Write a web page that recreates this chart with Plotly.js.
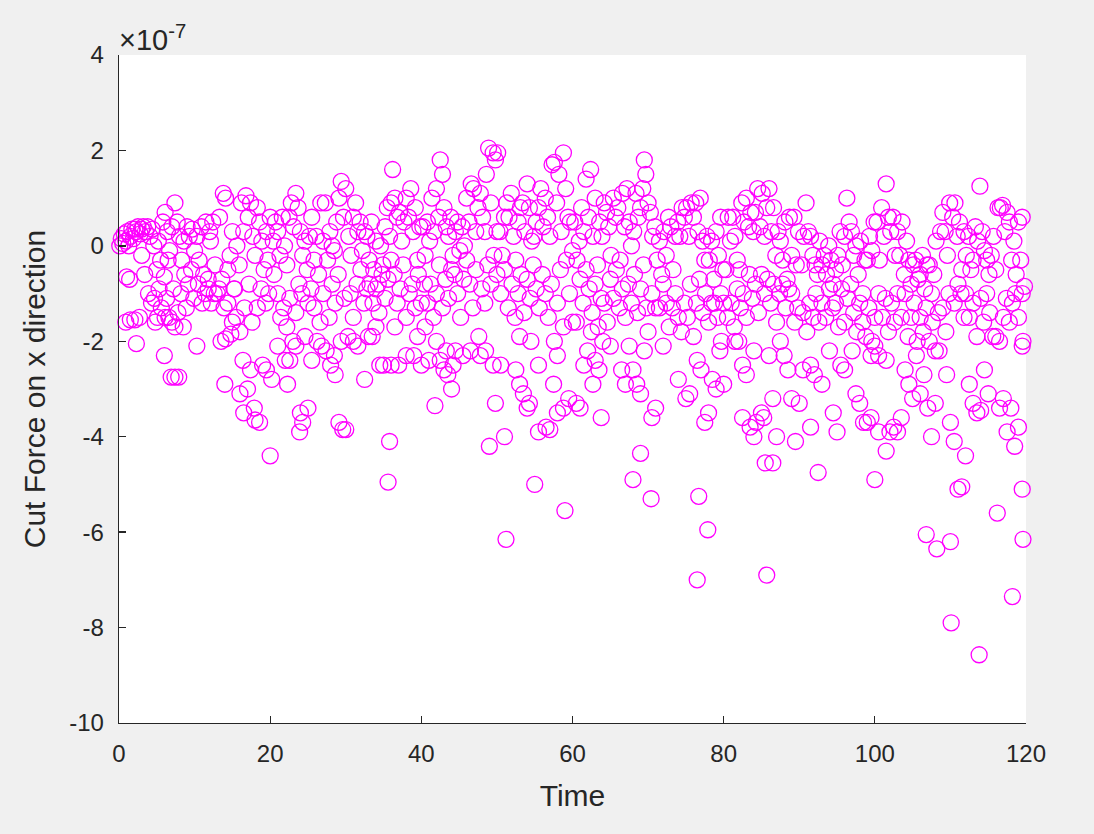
<!DOCTYPE html>
<html>
<head>
<meta charset="utf-8">
<script src="https://cdn.plot.ly/plotly-3.0.1.min.js"></script>
<style>
html,body{margin:0;padding:0;background:#f0f0f0;}
#chart{width:1094px;height:834px;}
</style>
</head>
<body>
<div id="chart"></div>
<script>
// Cut force values are in units of 1e-7 (axis multiplier ×10^-7). Each pair is [time, force].
const points0to10 = [[0.1,0.0],[0.3,0.15],[0.5,0.05],[0.7,0.25],[0.9,0.1],[1.1,0.3],[1.3,0.0],[1.5,0.2],[1.7,0.35],[1.9,0.15],[2.1,0.35],[2.3,0.3],[2.5,0.4],[2.8,0.25],[3.0,0.35],[3.2,0.4],[3.5,0.3],[3.8,0.4],[4.1,0.2],[4.4,0.35],
[1.0,-0.65],[1.4,-0.7],[0.9,-1.6],[1.5,-1.55],[2.1,-1.55],[2.7,-1.5],[2.3,-2.05],
[3.0,-0.2],[3.4,-0.6],[3.9,-1.0],[4.3,-1.2],[4.7,-1.1],[5.0,-0.5],[5.3,-0.9],[5.6,-1.3],[4.6,0.0],[5.2,0.1],[5.8,0.5],[6.1,0.7],[6.4,0.3],[6.7,-0.1],[7.0,0.4],[7.4,0.9],[7.7,0.5],[8.0,0.2],[8.3,-0.3],[8.6,0.1],[9.0,0.4],[9.3,0.2],[9.7,0.35],[10.0,-0.1],
[5.5,-0.3],[6.0,-0.65],[6.3,-1.1],[6.6,-1.5],[7.0,-1.6],[7.4,-1.7],[7.8,-1.4],[8.2,-1.0],[8.5,-1.7],[8.9,-1.3],[9.2,-0.8],[9.6,-0.5],[9.9,-1.1],[5.1,-1.5],[6.1,-1.5],[4.8,-1.6],
[6.0,-2.3],[6.9,-2.75],[7.4,-2.75],[7.9,-2.75],[10.3,-2.1],[8.7,-0.6],[7.2,-0.9],[6.5,-0.3]];

const points10to20 = [[10.3,0.2],[10.6,-0.3],[10.9,0.4],[11.2,-0.6],[11.5,0.5],[11.8,-0.9],[12.1,0.1],[12.4,0.5],[12.7,-0.4],[13.0,-1.0],[13.3,0.6],[13.6,-0.7],[13.8,1.1],[14.1,1.0],[14.4,-0.5],[14.7,-0.2],[15.0,0.3],[15.3,-0.9],[15.6,0.0],[15.9,-0.4],[16.2,0.9],[16.5,0.3],[16.8,1.05],[17.1,0.6],[17.4,0.9],[17.7,0.2],[18.0,-0.2],[18.3,0.8],[18.6,0.5],[18.9,0.1],[19.2,-0.5],[19.5,0.3],[19.8,-1.0],[20.0,0.6],
[10.5,-0.8],[11.0,-1.2],[11.4,-1.0],[11.8,-0.7],[12.2,-1.2],[12.6,-1.0],[13.2,-0.9],[13.9,-1.3],[14.4,-1.2],[15.0,-1.6],[15.5,-1.5],[16.0,-1.8],[16.6,-1.3],[17.2,-0.8],[17.6,-1.6],[18.3,-1.3],[18.8,-0.9],[19.4,-1.2],[19.7,-0.3],
[13.5,-2.0],[14.1,-1.95],[14.8,-1.85],[14.0,-2.9],[16.4,-2.4],[17.4,-2.6],[16.0,-3.1],[17.0,-3.0],[16.5,-3.5],[17.9,-3.4],[18.0,-3.65],[18.6,-3.7],[20.0,-4.4],[19.0,-2.5],[20.2,-2.8],[19.5,-2.6],[15.2,-0.9],[12.0,0.3]];

const points20to30 = [[20.4,0.1],[20.7,0.5],[21.0,0.3],[21.3,-0.2],[21.6,0.6],[21.9,0.0],[22.2,-0.4],[22.5,0.6],[22.8,0.9],[23.1,0.4],[23.4,1.1],[23.7,0.8],[24.0,0.3],[24.3,-0.2],[24.6,0.1],[24.9,-0.5],[25.2,0.2],[25.5,0.6],[25.8,-0.3],[26.1,0.2],[26.4,-0.6],[26.7,0.9],[27.0,0.1],[27.3,0.9],[27.6,-0.3],[27.9,0.3],[28.2,0.0],[28.5,-0.1],[28.8,0.5],[29.1,1.0],[29.4,1.35],[29.7,0.6],[30.0,1.2],
[20.5,-0.6],[21.0,-1.0],[21.4,-1.5],[21.8,-1.3],[22.2,-1.7],[22.6,-1.1],[23.0,-2.0],[23.4,-1.4],[23.8,-0.8],[24.2,-1.0],[24.6,-1.9],[25.0,-1.2],[25.4,-0.9],[25.8,-1.3],[26.2,-2.0],[26.6,-1.6],[27.0,-1.0],[27.4,-2.2],[27.8,-1.5],[28.2,-0.8],[28.6,-1.2],[29.0,-0.6],[29.4,-2.0],[29.8,-1.1],
[21.0,-2.1],[22.0,-2.4],[22.6,-2.4],[23.4,-2.1],[23.9,-3.9],[24.3,-3.7],[24.0,-3.5],[25.0,-3.4],[25.5,-2.4],[28.0,-2.5],[28.5,-2.3],[28.6,-2.7],[29.1,-3.7],[29.6,-3.85],[30.0,-3.85],[30.3,-1.9],[26.8,-2.1],[22.3,-2.9]];

const points30to40 = [[30.4,0.2],[30.7,-0.2],[31.0,0.6],[31.3,0.9],[31.6,0.3],[31.9,0.5],[32.2,-0.1],[32.5,0.3],[32.8,0.2],[33.1,-0.3],[33.4,0.5],[33.7,-0.5],[34.0,0.1],[34.3,-0.8],[34.6,0.0],[34.9,-0.4],[35.2,0.4],[35.5,0.8],[35.8,0.2],[36.0,0.9],[36.2,1.6],[36.5,1.0],[36.8,0.6],[37.1,0.7],[37.4,0.1],[37.7,0.5],[38.0,1.0],[38.3,0.6],[38.6,1.2],[38.9,0.3],[39.2,0.8],[39.5,-0.3],[39.8,0.4],
[30.6,-1.0],[31.0,-1.5],[31.5,-0.8],[32.0,-0.5],[32.4,-1.2],[32.8,-0.9],[33.2,-0.8],[33.6,-1.2],[34.0,-0.9],[34.4,-1.4],[34.8,-0.6],[35.2,-1.1],[35.6,-0.7],[36.0,-0.3],[36.4,-0.6],[36.8,-1.2],[37.2,-0.9],[37.6,-0.4],[38.0,-1.5],[38.4,-1.0],[38.8,-0.8],[39.2,-1.3],[39.6,-0.6],[40.0,-1.2],
[32.5,-2.8],[33.0,-1.9],[33.5,-1.9],[34.0,-1.7],[34.5,-2.5],[35.0,-2.5],[36.0,-2.5],[36.5,-1.7],[37.0,-2.5],[38.0,-2.3],[39.0,-2.3],[39.5,-1.9],[40.0,-2.5],[35.8,-4.1],[35.6,-4.95],[31.0,-2.0],[31.6,-2.1]];

const points40to50 = [[40.2,0.4],[40.5,-0.2],[40.8,0.5],[41.1,0.1],[41.4,1.0],[41.7,0.3],[42.0,1.2],[42.3,0.6],[42.5,1.8],[42.8,1.5],[43.0,0.8],[43.3,0.4],[43.6,0.2],[43.9,0.6],[44.2,-0.2],[44.5,0.3],[44.8,0.5],[45.1,-0.1],[45.4,0.4],[45.7,0.0],[46.0,1.0],[46.3,0.5],[46.6,1.3],[46.9,1.2],[47.2,0.3],[47.5,0.8],[47.8,1.1],[48.1,0.6],[48.4,0.3],[48.6,1.5],[48.9,2.05],[49.2,0.9],[49.5,1.95],[49.8,1.8],[50.1,1.95],[50.0,0.3],
[40.4,-0.8],[40.8,-1.2],[41.2,-0.8],[41.6,-1.5],[42.0,-1.0],[42.4,-0.4],[42.8,-1.3],[43.2,-0.7],[43.6,-1.1],[44.0,-0.5],[44.4,-0.6],[44.8,-1.0],[45.2,-1.5],[45.6,-0.7],[46.0,-0.3],[46.4,-0.8],[46.8,-1.3],[47.2,-0.5],[47.6,-1.9],[48.0,-0.9],[48.4,-1.2],[48.8,-0.4],[49.2,-0.8],[49.6,-0.2],[50.0,-0.6],
[40.5,-1.7],[41.0,-2.4],[42.0,-2.0],[42.5,-2.4],[43.0,-2.6],[43.3,-2.2],[43.5,-2.7],[44.0,-3.0],[44.2,-2.5],[41.8,-3.35],[44.5,-2.2],[45.5,-2.3],[46.5,-2.2],[47.8,-2.3],[48.5,-2.2],[49.0,-4.2],[49.5,-2.5],[49.8,-3.3]];

const points50to60 = [[50.4,0.3],[50.7,-0.2],[51.0,0.6],[51.3,0.9],[51.6,0.6],[51.9,1.1],[52.2,0.2],[52.5,-0.3],[52.8,0.5],[53.1,0.8],[53.4,0.9],[53.7,0.3],[54.0,1.3],[54.3,0.8],[54.6,0.1],[54.9,0.2],[55.2,0.5],[55.5,0.8],[55.8,1.2],[56.1,0.4],[56.4,1.0],[56.7,0.6],[57.0,0.2],[57.3,1.7],[57.6,1.75],[57.9,0.9],[58.2,1.5],[58.5,0.3],[58.8,1.95],[59.1,1.2],[59.4,0.6],[59.7,0.5],[60.0,-0.1],
[50.5,-1.0],[51.0,-0.5],[51.5,-1.3],[52.0,-0.8],[52.4,-1.5],[52.8,-1.0],[53.2,-0.6],[53.6,-1.4],[54.0,-0.7],[54.4,-1.1],[54.8,-0.4],[55.2,-0.9],[55.6,-1.3],[56.0,-0.6],[56.4,-1.0],[56.8,-1.5],[57.2,-0.8],[57.6,-2.0],[58.0,-1.2],[58.4,-0.5],[58.8,-1.7],[59.2,-0.3],[59.6,-1.0],[60.0,-1.6],
[50.5,-2.5],[51.0,-4.0],[51.2,-6.15],[52.5,-2.6],[53.0,-2.9],[53.0,-1.9],[53.5,-3.1],[54.0,-3.4],[54.3,-3.3],[54.5,-2.0],[55.0,-5.0],[55.5,-2.5],[55.5,-3.9],[56.5,-3.8],[57.0,-3.85],[57.5,-2.9],[58.0,-2.3],[58.0,-3.5],[58.8,-3.4],[59.0,-5.55],[59.5,-3.2]];

const points60to70 = [[60.3,0.5],[60.6,-0.3],[60.9,0.1],[61.2,0.8],[61.5,0.3],[61.8,1.4],[62.1,0.6],[62.4,1.6],[62.7,0.2],[63.0,1.0],[63.3,-0.4],[63.6,0.5],[63.9,0.2],[64.2,0.9],[64.5,0.7],[64.8,0.4],[65.1,-0.2],[65.4,1.0],[65.7,0.6],[66.0,0.8],[66.3,-0.3],[66.6,1.1],[66.9,0.4],[67.2,1.2],[67.5,0.5],[67.8,0.0],[68.1,0.3],[68.4,1.1],[68.7,0.6],[69.0,0.8],[69.3,1.2],[69.5,1.8],[69.7,1.5],[70.0,0.9],
[60.5,-1.6],[61.0,-0.7],[61.4,-1.2],[61.8,-0.5],[62.2,-0.9],[62.6,-1.4],[63.0,-0.8],[63.4,-1.7],[63.8,-1.1],[64.2,-1.2],[64.6,-1.6],[65.0,-0.7],[65.4,-1.1],[65.8,-0.5],[66.2,-1.3],[66.6,-0.9],[67.0,-1.5],[67.4,-0.8],[67.8,-1.2],[68.2,-0.6],[68.6,-1.4],[69.0,-0.9],[69.4,-0.4],[69.8,-1.3],
[60.5,-3.3],[61.0,-3.4],[61.5,-2.5],[62.0,-2.2],[62.5,-1.8],[62.7,-2.9],[63.0,-2.4],[63.5,-2.6],[63.8,-3.6],[64.0,-2.0],[65.0,-2.1],[66.5,-2.6],[67.0,-2.9],[67.5,-2.1],[68.0,-2.6],[68.0,-4.9],[68.5,-2.9],[69.0,-3.1],[69.0,-4.35],[69.5,-2.2],[70.0,-1.8]];

const points70to80 = [[70.3,0.7],[70.6,0.2],[70.9,0.4],[71.2,-0.3],[71.5,0.1],[71.8,-0.6],[72.1,0.3],[72.4,-0.2],[72.7,0.6],[73.0,0.4],[73.3,-0.5],[73.6,0.2],[73.9,0.5],[74.2,0.2],[74.5,0.8],[74.8,0.6],[75.1,0.8],[75.4,0.2],[75.7,0.9],[76.0,0.6],[76.3,0.9],[76.6,0.3],[76.9,1.0],[77.2,0.1],[77.5,-0.3],[77.8,0.2],[78.1,-0.3],[78.4,0.1],[78.7,-0.7],[79.0,0.3],[79.3,-0.2],[79.6,0.6],[79.9,-0.5],
[70.5,-1.0],[71.0,-1.3],[71.5,-1.3],[72.0,-0.8],[72.4,-1.2],[72.8,-1.7],[73.2,-1.3],[73.6,-1.0],[74.0,-1.5],[74.4,-1.8],[74.8,-1.2],[75.2,-1.5],[75.6,-0.8],[76.0,-1.9],[76.4,-1.2],[76.8,-0.7],[77.2,-1.4],[77.6,-1.0],[78.0,-1.6],[78.4,-1.2],[78.8,-1.2],[79.2,-1.5],[79.6,-1.0],[80.0,-1.2],
[70.4,-5.3],[70.5,-3.6],[71.0,-3.4],[72.0,-2.1],[74.0,-2.8],[75.0,-3.2],[75.5,-3.1],[76.5,-2.4],[77.0,-2.6],[76.5,-7.0],[76.7,-5.25],[77.5,-3.7],[77.9,-5.95],[78.0,-3.5],[78.5,-2.8],[79.0,-3.0],[79.5,-2.2],[80.0,-2.9],[79.7,-2.0]];

const points80to90 = [[80.3,-0.5],[80.6,0.6],[80.9,0.1],[81.2,0.6],[81.5,0.2],[81.8,-0.3],[82.1,-0.5],[82.4,0.9],[82.7,0.5],[83.0,1.0],[83.3,0.4],[83.6,0.7],[83.9,0.3],[84.2,0.7],[84.5,1.2],[84.8,0.4],[85.1,1.1],[85.4,0.2],[85.7,0.8],[86.0,1.2],[86.3,0.3],[86.6,0.8],[86.9,-0.2],[87.2,0.3],[87.5,0.1],[87.8,-0.3],[88.1,0.5],[88.4,-0.7],[88.7,0.6],[89.0,-0.2],[89.3,0.6],[89.6,-0.4],[89.9,0.3],
[80.5,-1.5],[81.0,-1.2],[81.4,-1.7],[81.8,-0.9],[82.2,-1.3],[82.6,-1.0],[83.0,-1.5],[83.4,-0.6],[83.8,-1.1],[84.2,-0.8],[84.6,-1.4],[85.0,-0.6],[85.4,-1.0],[85.8,-0.7],[86.2,-1.2],[86.6,-0.8],[87.0,-1.6],[87.4,-1.0],[87.8,-0.8],[88.2,-1.3],[88.6,-0.9],[89.0,-1.0],[89.4,-1.6],[89.8,-1.3],
[81.5,-2.0],[82.0,-2.0],[82.5,-2.5],[82.5,-3.6],[83.0,-2.7],[83.5,-3.8],[84.0,-4.0],[84.0,-2.2],[84.3,-3.7],[85.0,-3.5],[85.3,-3.6],[85.5,-4.55],[85.7,-6.9],[86.0,-2.3],[86.5,-4.55],[86.5,-3.2],[87.0,-4.0],[87.5,-2.0],[88.0,-2.3],[88.5,-2.6],[89.0,-3.2],[89.5,-4.1],[90.0,-3.3]];

const points90to100 = [[90.3,-0.4],[90.6,0.2],[90.9,0.9],[91.2,0.3],[91.5,0.2],[91.8,-0.2],[92.1,-0.4],[92.4,-0.6],[92.7,0.1],[93.0,-0.4],[93.3,-0.2],[93.6,-0.6],[93.9,0.0],[94.2,-0.3],[94.5,-0.8],[94.8,-0.5],[95.1,-0.2],[95.4,0.3],[95.7,-0.4],[96.0,0.2],[96.3,1.0],[96.6,0.5],[96.9,0.3],[97.2,-0.2],[97.5,0.0],[97.8,-0.6],[98.1,0.1],[98.4,-1.0],[98.7,-0.3],[99.0,-0.3],[99.3,0.2],[99.6,-0.1],[99.9,0.5],
[90.5,-1.4],[91.0,-1.8],[91.4,-1.2],[91.8,-1.5],[92.2,-1.0],[92.6,-1.6],[93.0,-1.2],[93.5,-1.5],[94.0,-0.9],[94.4,-1.3],[94.8,-1.2],[95.2,-1.7],[95.6,-0.9],[96.0,-1.6],[96.4,-1.1],[96.8,-0.8],[97.2,-1.4],[97.6,-1.8],[98.0,-1.2],[98.4,-1.6],[98.8,-1.9],[99.2,-1.3],[99.6,-2.0],[100.0,-1.5],
[90.5,-2.6],[91.5,-2.5],[91.5,-3.8],[92.0,-2.7],[92.5,-4.75],[93.0,-2.9],[94.0,-2.2],[94.5,-3.5],[95.0,-3.9],[95.5,-2.5],[96.0,-2.6],[97.0,-2.2],[97.5,-3.1],[98.0,-3.3],[98.5,-3.7],[99.0,-3.7],[99.5,-3.6],[99.5,-2.3],[100.0,-2.1],[100.0,-4.9]];

const points100to110 = [[100.3,0.5],[100.6,-0.3],[100.9,0.8],[101.2,0.2],[101.5,1.3],[101.8,0.6],[102.1,0.3],[102.4,0.6],[102.7,-0.2],[103.0,0.3],[103.3,-0.2],[103.6,0.5],[103.9,-0.6],[104.2,0.1],[104.5,-0.3],[104.8,-0.8],[105.1,-0.4],[105.4,-0.3],[105.7,-0.7],[106.0,-0.6],[106.3,-0.2],[106.6,-0.9],[106.9,-0.4],[107.2,-0.4],[107.5,-1.0],[107.8,-0.6],[108.1,0.1],[108.4,-1.4],[108.7,0.3],[109.0,0.7],[109.3,0.3],[109.6,-0.2],[109.9,0.9],
[100.5,-1.0],[101.0,-1.5],[101.4,-1.1],[101.8,-1.8],[102.2,-1.2],[102.6,-1.6],[103.0,-1.0],[103.5,-1.5],[104.0,-1.0],[104.4,-1.9],[104.8,-1.5],[105.2,-1.2],[105.6,-2.0],[106.0,-1.5],[106.4,-1.8],[106.8,-1.3],[107.2,-2.0],[107.6,-1.6],[108.0,-2.2],[108.5,-2.2],[109.0,-1.3],[109.4,-1.8],[109.8,-1.0],
[100.5,-2.3],[100.5,-3.9],[101.5,-2.4],[101.5,-4.3],[102.0,-3.9],[102.5,-3.8],[103.0,-3.9],[103.5,-3.6],[104.0,-2.6],[104.5,-2.9],[105.0,-3.2],[105.5,-2.3],[106.0,-3.1],[106.5,-2.7],[106.8,-6.05],[107.0,-3.4],[107.5,-4.0],[108.0,-3.3],[108.2,-6.35],[109.5,-2.7],[110.0,-3.7],[110.0,-6.2],[110.1,-7.9]];

const points110to120 = [[110.3,0.6],[110.6,0.9],[110.9,0.2],[111.2,0.5],[111.5,-0.5],[111.8,0.3],[112.1,-0.2],[112.4,0.2],[112.7,-0.5],[113.0,-0.3],[113.3,0.4],[113.6,0.1],[113.9,1.25],[114.2,0.3],[114.5,-0.1],[114.8,-0.3],[115.1,-0.6],[115.4,-0.2],[115.7,0.2],[116.0,-0.5],[116.3,0.8],[116.6,0.8],[116.9,0.85],[117.2,0.3],[117.5,0.7],[117.8,0.5],[118.1,-0.3],[118.4,0.1],[118.7,-0.6],[119.0,0.5],[119.5,0.6],[119.3,-0.3],
[110.5,-1.2],[111.0,-0.8],[111.4,-1.0],[111.8,-1.5],[112.0,-1.0],[112.5,-1.5],[113.0,-1.2],[113.5,-1.9],[114.0,-1.1],[114.4,-1.6],[114.8,-1.0],[115.2,-1.4],[115.6,-1.9],[116.0,-1.9],[116.5,-2.0],[117.0,-1.5],[117.4,-1.1],[117.8,-1.6],[118.2,-1.2],[118.6,-1.0],[119.0,-1.5],[119.5,-1.0],[119.8,-0.85],
[110.5,-4.1],[111.0,-5.1],[111.5,-5.05],[112.0,-4.4],[112.5,-2.9],[113.0,-3.3],[113.5,-3.5],[113.8,-8.57],[114.0,-3.45],[114.5,-2.6],[115.0,-3.1],[116.2,-5.6],[116.5,-3.4],[117.0,-3.2],[117.5,-3.9],[118.0,-3.4],[118.2,-7.35],[118.5,-4.2],[119.0,-3.8],[119.5,-5.1],[119.6,-6.15],[119.5,-2.1],[119.6,-2.0]];

const xTickValues = [0, 20, 40, 60, 80, 100, 120];
const yTickValues = [-10, -8, -6, -4, -2, 0, 2, 4];
const xLabel = "Time";
const yLabel = "Cut Force on x direction";
const exponentLabel = "×10<sup>-7</sup>";

const allPoints = [].concat(points0to10, points10to20, points20to30, points30to40, points40to50,
  points50to60, points60to70, points70to80, points80to90, points90to100, points100to110, points110to120);

const FONT = "Liberation Sans, Arial, Helvetica, sans-serif";
const TXT = "#262626";

const trace = {
  type: "scatter",
  mode: "markers",
  x: allPoints.map(p => p[0]),
  y: allPoints.map(p => p[1]),
  marker: {symbol: "circle-open", size: 16, color: "#ff00ff", line: {width: 1.3, color: "#ff00ff"}},
  cliponaxis: false,
  hoverinfo: "skip"
};

const axisCommon = {
  showgrid: false, zeroline: false, showline: true, linecolor: TXT, linewidth: 1.3,
  ticks: "inside", ticklen: 7, tickwidth: 1.3, tickcolor: TXT,
  tickfont: {family: FONT, size: 24, color: TXT},
  mirror: false, fixedrange: true
};

const layout = {
  width: 1094, height: 834,
  paper_bgcolor: "#f0f0f0", plot_bgcolor: "#ffffff",
  margin: {l: 119, r: 68, t: 55, b: 111, pad: 0},
  showlegend: false,
  title: {
    text: exponentLabel, xref: "paper", yref: "paper", x: 0, y: 1,
    xanchor: "left", yanchor: "bottom", pad: {b: 5, l: 0, t: 0, r: 0},
    font: {family: FONT, size: 29, color: TXT}
  },
  xaxis: Object.assign({}, axisCommon, {
    range: [0, 120], tickvals: xTickValues, ticktext: xTickValues.map(String),
    ticklabelstandoff: 9,
    title: {text: xLabel, font: {family: FONT, size: 30, color: TXT}, standoff: 19}
  }),
  yaxis: Object.assign({}, axisCommon, {
    range: [-10, 4], tickvals: yTickValues, ticktext: yTickValues.map(String),
    ticklabelstandoff: 9,
    title: {text: yLabel, font: {family: FONT, size: 30, color: TXT}, standoff: 14}
  })
};

Plotly.newPlot("chart", [trace], layout, {displayModeBar: false, staticPlot: true});
</script>
</body>
</html>
